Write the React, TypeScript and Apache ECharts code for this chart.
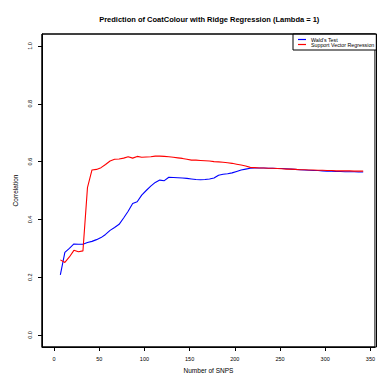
import React, { useEffect, useRef } from "react";
import * as echarts from "echarts";

const snps = [7,12,17,22,27,32,37,42,47,52,57,62,67,72,77,82,87,92,97,102,107,112,117,122,127,132,137,142,147,152,157,162,167,172,177,182,187,192,197,202,207,212,217,222,227,232,237,242,247,252,257,262,267,272,277,282,287,292,297,302,307,312,317,322,327,332,337,342];

const waldTest = [0.208,0.286,0.300,0.315,0.314,0.314,0.320,0.324,0.330,0.337,0.348,0.362,0.372,0.383,0.405,0.428,0.455,0.461,0.484,0.500,0.515,0.528,0.536,0.534,0.546,0.545,0.544,0.543,0.542,0.540,0.538,0.537,0.538,0.540,0.543,0.553,0.556,0.558,0.561,0.566,0.571,0.574,0.577,0.578,0.578,0.578,0.577,0.577,0.576,0.576,0.575,0.574,0.573,0.572,0.571,0.570,0.569,0.569,0.568,0.567,0.567,0.566,0.566,0.565,0.565,0.565,0.564,0.564];

const svr = [0.260,0.251,0.270,0.293,0.288,0.291,0.510,0.571,0.573,0.579,0.590,0.602,0.608,0.609,0.612,0.617,0.612,0.618,0.615,0.616,0.617,0.619,0.619,0.618,0.617,0.615,0.613,0.611,0.608,0.605,0.605,0.604,0.603,0.602,0.600,0.599,0.598,0.596,0.594,0.591,0.588,0.585,0.580,0.579,0.578,0.578,0.577,0.577,0.576,0.575,0.574,0.574,0.573,0.572,0.572,0.571,0.571,0.570,0.570,0.569,0.569,0.568,0.568,0.568,0.568,0.567,0.567,0.567];

const xTicks = [0, 50, 100, 150, 200, 250, 300, 350];
const yTicks = [0, 0.2, 0.4, 0.6, 0.8, 1.0];

const seriesNames = ["Wald's Test", "Support Vector Regression"];
const titleText = "Prediction of CoatColour with Ridge Regression (Lambda = 1)";
const xName = "Number of SNPS";
const yName = "Correlation";

const FONT = "Liberation Sans, Arial, Helvetica, sans-serif";

export default function App() {
  const ref = useRef<HTMLDivElement>(null);
  useEffect(() => {
    if (!ref.current) return;
    const chart = echarts.init(ref.current, null, { renderer: "svg" });
    const W = 378;
    const H = 379;
    const gridLeft = 42;
    const gridRight = 1.5;
    const gridTop = 34;
    const gridBottom = 32;
    const plotW = W - gridLeft - gridRight;
    const plotH = H - gridTop - gridBottom;
    const x0 = gridLeft;
    const x1 = gridLeft + plotW;
    const y0 = gridTop;
    const y1 = gridTop + plotH;
    const plotCenterX = gridLeft + plotW / 2;
    const X_MIN = -13.3;
    const X_MAX = 355;
    const Y_MIN = -0.0415;
    const Y_MAX = 1.0415;
    const edge = (a: number[], b: number[]) => ({
      type: "line",
      shape: { x1: a[0], y1: a[1], x2: b[0], y2: b[1] },
      style: { stroke: "#000", lineWidth: 1 },
      z: 100,
    });
    chart.setOption({
      animation: false,
      backgroundColor: "#ffffff",
      textStyle: { fontFamily: FONT },
      graphic: {
        elements: [
          {
            type: "text",
            x: plotCenterX,
            y: 19,
            style: {
              text: titleText,
              fontFamily: FONT,
              fontSize: 7.5,
              fontWeight: "bold",
              fill: "#000",
              textAlign: "center",
              textVerticalAlign: "middle",
            },
          },
          edge([x0, y0], [x1, y0]),
          edge([x1, y0], [x1, y1]),
          edge([x1, y1], [x0, y1]),
          edge([x0, y1], [x0, y0]),
        ],
      },
      legend: {
        data: seriesNames,
        orient: "vertical",
        left: 293,
        top: 34,
        z: 20,
        backgroundColor: "#fff",
        borderColor: "#000",
        borderWidth: 1,
        borderRadius: 0,
        padding: [3, 2, 3, 5],
        icon: "rect",
        itemWidth: 8,
        itemHeight: 1.2,
        itemGap: 0,
        itemTextGap: 5,
        textStyle: { fontSize: 5.3, color: "#000", fontFamily: FONT, lineHeight: 4.7 },
      },
      grid: {
        left: gridLeft,
        right: gridRight,
        top: gridTop,
        bottom: gridBottom,
        show: true,
        borderColor: "#000",
        borderWidth: 1,
        backgroundColor: "rgba(0,0,0,0)",
      },
      xAxis: {
        type: "value",
        min: X_MIN,
        max: X_MAX,
        name: xName,
        nameLocation: "middle",
        nameGap: 16,
        nameTextStyle: { fontSize: 6.5, color: "#000", fontFamily: FONT },
        axisLine: { show: true, onZero: false, lineStyle: { color: "#000", width: 1 } },
        splitLine: { show: false },
        axisTick: {
          show: true,
          inside: false,
          length: 4,
          customValues: xTicks,
          lineStyle: { color: "#000", width: 1 },
        },
        axisLabel: {
          customValues: xTicks,
          margin: 9,
          fontSize: 5.5,
          color: "#000",
          fontFamily: FONT,
          formatter: (v: number) => String(Math.round(v)),
        },
      },
      yAxis: {
        type: "value",
        min: Y_MIN,
        max: Y_MAX,
        name: yName,
        nameLocation: "middle",
        nameRotate: 90,
        nameGap: 23,
        nameTextStyle: { fontSize: 6.5, color: "#000", fontFamily: FONT },
        axisLine: { show: true, onZero: false, lineStyle: { color: "#000", width: 1 } },
        splitLine: { show: false },
        axisTick: {
          show: true,
          inside: false,
          length: 4,
          customValues: yTicks,
          lineStyle: { color: "#000", width: 1 },
        },
        axisLabel: {
          customValues: yTicks,
          rotate: 90,
          margin: 9,
          fontSize: 5.5,
          color: "#000",
          fontFamily: FONT,
          formatter: (v: number) => v.toFixed(1),
        },
      },
      series: [
        {
          name: seriesNames[0],
          type: "line",
          data: snps.map((x, i) => [x, waldTest[i]]),
          symbol: "none",
          lineStyle: { color: "#0000ff", width: 1.1 },
          itemStyle: { color: "#0000ff" },
        },
        {
          name: seriesNames[1],
          type: "line",
          data: snps.map((x, i) => [x, svr[i]]),
          symbol: "none",
          lineStyle: { color: "#ff0000", width: 1.1 },
          itemStyle: { color: "#ff0000" },
        },
      ],
    });
    return () => chart.dispose();
  }, []);
  return (
    <div
      ref={ref}
      style={{ position: "fixed", left: 0, top: 0, width: 378, height: 379 }}
    />
  );
}
